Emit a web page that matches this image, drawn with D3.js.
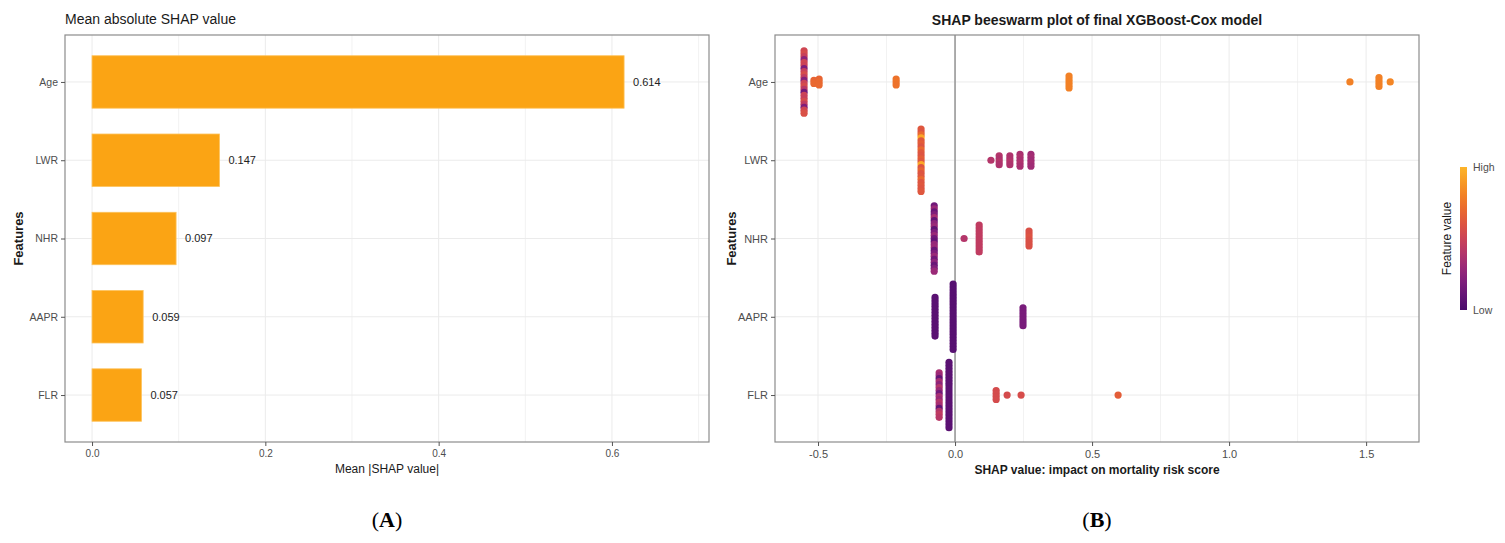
<!DOCTYPE html>
<html><head><meta charset="utf-8">
<script src="https://cdn.jsdelivr.net/npm/d3@7"></script>
<style>
html,body{margin:0;padding:0;background:#fff;}
text{font-family:"Liberation Sans",Arial,sans-serif;}
</style></head>
<body>
<svg id="chart" width="1505" height="543"></svg>
<script>
// ---------- DATA ----------
const features = ["Age", "LWR", "NHR", "AAPR", "FLR"];
const meanAbsShap = [0.614, 0.147, 0.097, 0.059, 0.057];
const xTicksA = [0, 0.2, 0.4, 0.6];
const xMinorA = [0.1, 0.3, 0.5, 0.7];
const xTicksB = [-0.5, 0, 0.5, 1.0, 1.5];
const xMinorB = [-0.25, 0.25, 0.75, 1.25];

// Beeswarm clusters: [SHAP value, [normalised feature value of each point]]
const swarmAge = [
  [-0.551, [0.52,0.55,0.48,0.25,0.52,0.5,0.2,0.48,0.55,0.45,0.22,0.5,0.55,0.42,0.15,0.5,0.48,0.55,0.45,0.2,0.52,0.58]],
  [-0.515, [0.68,0.7]],
  [-0.496, [0.68,0.7,0.7]],
  [-0.215, [0.74,0.75,0.74]],
  [0.416,  [0.8,0.8,0.8,0.8,0.8]],
  [1.441,  [0.8]],
  [1.547,  [0.8,0.8,0.8,0.8]],
  [1.588,  [0.82]]
];
const swarmLWR = [
  [-0.124, [0.62,0.6,0.7,0.95,0.62,0.65,0.6,0.7,0.62,0.6,0.65,0.62,0.95,0.6,0.68,0.6,0.62,0.7,0.6,0.62,0.6,0.62]],
  [0.131, [0.4]],
  [0.161, [0.4,0.38,0.4,0.38]],
  [0.200, [0.38,0.38,0.4,0.38]],
  [0.237, [0.36,0.38,0.36,0.38,0.36]],
  [0.277, [0.32,0.34,0.32,0.34,0.32]]
];
const swarmNHR = [
  [-0.076, [0.15,0.3,0.12,0.2,0.35,0.1,0.25,0.3,0.08,0.2,0.3,0.15,0.1,0.28,0.3,0.12,0.2,0.3,0.15,0.25,0.12,0.2,0.3]],
  [0.033, [0.4]],
  [0.088, [0.45,0.45,0.45,0.45,0.45,0.45,0.45,0.45,0.45,0.45]],
  [0.270, [0.58,0.58,0.6,0.58,0.58,0.58]]
];
const swarmAAPR = [
  [-0.073, [0.06,0.06,0.06,0.06,0.06,0.06,0.06,0.06,0.06,0.06,0.06,0.06,0.06,0.06]],
  [-0.007, [0.05,0.05,0.05,0.05,0.05,0.05,0.05,0.05,0.05,0.05,0.05,0.05,0.05,0.05,0.05,0.05,0.05,0.05,0.05,0.05,0.05,0.05,0.05]],
  [0.248, [0.18,0.18,0.18,0.18,0.18,0.18,0.18]]
];
const swarmFLR = [
  [-0.058, [0.35,0.3,0.1,0.35,0.25,0.4,0.3,0.15,0.35,0.3,0.4,0.35,0.1,0.4,0.45,0.42]],
  [-0.022, [0.06,0.06,0.06,0.06,0.06,0.06,0.06,0.06,0.06,0.06,0.06,0.06,0.06,0.06,0.06,0.06,0.06,0.06,0.06,0.06,0.06,0.06,0.06]],
  [0.150, [0.55,0.55,0.55,0.55]],
  [0.190, [0.55]],
  [0.241, [0.56]],
  [0.595, [0.65]]
];
const swarms = [swarmAge, swarmLWR, swarmNHR, swarmAAPR, swarmFLR];
const legendLabels = ["Low", "High"];

// ---------- SETUP ----------
const svg = d3.select("#chart");
const barColor = "#FBA414";
const gridCol = "#ebebeb";
const borderCol = "#8c8c8c";
const tickTextCol = "#4d4d4d";
const fmt1 = v => d3.format(".1f")(v).replace("\u2212", "-");
const featColor = d3.scaleSequential(
  d3.interpolateRgbBasis(["#4A0C6B","#7E1D82","#B7356F","#E0503F","#F4801E","#FDB52A"])
).domain([0, 1]);

function panel(g, x, y, xt, xm) {
  const [x0, x1] = x.range();
  const [y0, y1] = y.range();
  g.selectAll(".vmin").data(xm).join("line")
    .attr("x1", d => x(d)).attr("x2", d => x(d)).attr("y1", y0).attr("y2", y1)
    .attr("stroke", "#f2f2f2").attr("stroke-width", 1);
  g.selectAll(".vmaj").data(xt).join("line")
    .attr("x1", d => x(d)).attr("x2", d => x(d)).attr("y1", y0).attr("y2", y1)
    .attr("stroke", gridCol).attr("stroke-width", 1);
  g.selectAll(".hmaj").data(features).join("line")
    .attr("x1", x0).attr("x2", x1).attr("y1", d => y(d)).attr("y2", d => y(d))
    .attr("stroke", gridCol).attr("stroke-width", 1);
}

function axes(g, x, y, xt, xfmt, fsX, fsY) {
  const [x0, x1] = x.range();
  const [y0, y1] = y.range();
  const xa = g.append("g").attr("transform", `translate(0,${y1})`)
    .call(d3.axisBottom(x).tickValues(xt).tickFormat(xfmt).tickSize(4).tickPadding(4));
  xa.select(".domain").remove();
  xa.selectAll("line").attr("stroke", "#555");
  xa.selectAll("text").attr("fill", tickTextCol).style("font-size", fsX + "px")
    .style("font-family", "'Liberation Sans', Arial, sans-serif");
  const ya = g.append("g").attr("transform", `translate(${x0},0)`)
    .call(d3.axisLeft(y).tickSize(4).tickPadding(3));
  ya.select(".domain").remove();
  ya.selectAll("line").attr("stroke", "#555");
  ya.selectAll("text").attr("fill", tickTextCol).style("font-size", fsY + "px")
    .style("font-family", "'Liberation Sans', Arial, sans-serif");
}

// ---------- PANEL A ----------
const gA = svg.append("g");
const xA = d3.scaleLinear().domain([-0.0312, 0.712]).range([65, 709]);
const yA = d3.scalePoint().domain(features).range([35, 442]).padding(0.6);
panel(gA, xA, yA, xTicksA, xMinorA);
const bandH = yA.step() * 0.67;
gA.selectAll(".bar").data(features).join("rect")
  .attr("x", xA(0)).attr("y", d => yA(d) - bandH / 2)
  .attr("width", (d, i) => xA(meanAbsShap[i]) - xA(0))
  .attr("height", bandH).attr("fill", barColor)
  .attr("stroke", "#FDC25A").attr("stroke-width", 0.8);
gA.selectAll(".val").data(features).join("text")
  .attr("x", (d, i) => xA(meanAbsShap[i]) + 9).attr("y", d => yA(d))
  .attr("dy", "0.35em").attr("fill", "#222").style("font-size", "11px")
  .text((d, i) => d3.format(".3f")(meanAbsShap[i]));
gA.append("rect").attr("x", 65).attr("y", 35).attr("width", 644).attr("height", 407)
  .attr("fill", "none").attr("stroke", borderCol).attr("stroke-width", 1.2);
axes(gA, xA, yA, xTicksA, fmt1, 10, 10.5);
gA.append("text").attr("x", 65).attr("y", 24).attr("fill", "#1a1a1a")
  .style("font-size", "14px").text("Mean absolute SHAP value");
gA.append("text").attr("x", (65 + 709) / 2).attr("y", 473).attr("text-anchor", "middle")
  .attr("fill", "#1a1a1a").style("font-size", "12px").text("Mean |SHAP value|");
gA.append("text").attr("transform", `translate(23,${(35 + 442) / 2}) rotate(-90)`)
  .attr("text-anchor", "middle").attr("fill", "#1a1a1a").style("font-size", "13px")
  .style("font-weight", "bold").text("Features");

// ---------- PANEL B ----------
const gB = svg.append("g");
const xB = d3.scaleLinear().domain([-0.657, 1.693]).range([775, 1419]);
const yB = d3.scalePoint().domain(features).range([35, 442]).padding(0.6);
panel(gB, xB, yB, xTicksB, xMinorB);
gB.append("line").attr("x1", xB(0)).attr("x2", xB(0)).attr("y1", 35).attr("y2", 442)
  .attr("stroke", "#9a9a9a").attr("stroke-width", 1.6);
const stepFrac = 0.038; // vertical spacing between stacked points, in band units
const pts = [];
features.forEach((f, fi) => {
  swarms[fi].forEach(([shap, vals]) => {
    const n = vals.length;
    vals.forEach((v, i) => {
      pts.push({ f, shap, v, off: (i - (n - 1) / 2) * stepFrac });
    });
  });
});
gB.selectAll(".pt").data(pts).join("circle")
  .attr("cx", d => xB(d.shap))
  .attr("cy", d => yB(d.f) + d.off * yB.step())
  .attr("r", 3.6)
  .attr("fill", d => featColor(d.v));
gB.append("rect").attr("x", 775).attr("y", 35).attr("width", 644).attr("height", 407)
  .attr("fill", "none").attr("stroke", borderCol).attr("stroke-width", 1.2);
axes(gB, xB, yB, xTicksB, fmt1, 11, 11);
gB.append("text").attr("x", (775 + 1419) / 2).attr("y", 25).attr("text-anchor", "middle")
  .attr("fill", "#1a1a1a").style("font-size", "14px").style("font-weight", "bold")
  .text("SHAP beeswarm plot of final XGBoost-Cox model");
gB.append("text").attr("x", (775 + 1419) / 2).attr("y", 474).attr("text-anchor", "middle")
  .attr("fill", "#1a1a1a").style("font-size", "12px").style("font-weight", "bold")
  .text("SHAP value: impact on mortality risk score");
gB.append("text").attr("transform", `translate(736,${(35 + 442) / 2}) rotate(-90)`)
  .attr("text-anchor", "middle").attr("fill", "#1a1a1a").style("font-size", "13px")
  .style("font-weight", "bold").text("Features");

// legend
const defs = svg.append("defs");
const grad = defs.append("linearGradient").attr("id", "lg")
  .attr("x1", "0").attr("x2", "0").attr("y1", "1").attr("y2", "0");
d3.range(0, 1.0001, 0.1).forEach(t => {
  grad.append("stop").attr("offset", t).attr("stop-color", featColor(t));
});
const legY = d3.scaleLinear().domain([0, 1]).range([310, 167]);
svg.append("rect").attr("x", 1460).attr("y", legY(1)).attr("width", 7)
  .attr("height", legY(0) - legY(1)).attr("fill", "url(#lg)");
svg.selectAll(".lgl").data(legendLabels).join("text")
  .attr("x", 1473).attr("y", (d, i) => legY(i)).attr("dy", "0.35em")
  .attr("fill", tickTextCol).style("font-size", "10.5px").text(d => d);
svg.append("text").attr("transform", `translate(1451,${(167 + 310) / 2}) rotate(-90)`)
  .attr("text-anchor", "middle").attr("fill", "#1a1a1a").style("font-size", "12px")
  .text("Feature value");

// panel labels
[["A", (65 + 709) / 2], ["B", (775 + 1419) / 2]].forEach(([lab, cx]) => {
  const t = svg.append("text").attr("x", cx).attr("y", 527).attr("text-anchor", "middle")
    .style("font-family", "'Liberation Serif','Times New Roman',serif").style("font-size", "22px")
    .attr("fill", "#000");
  t.append("tspan").text("(");
  t.append("tspan").style("font-weight", "bold").text(lab);
  t.append("tspan").text(")");
});
</script>
</body></html>
